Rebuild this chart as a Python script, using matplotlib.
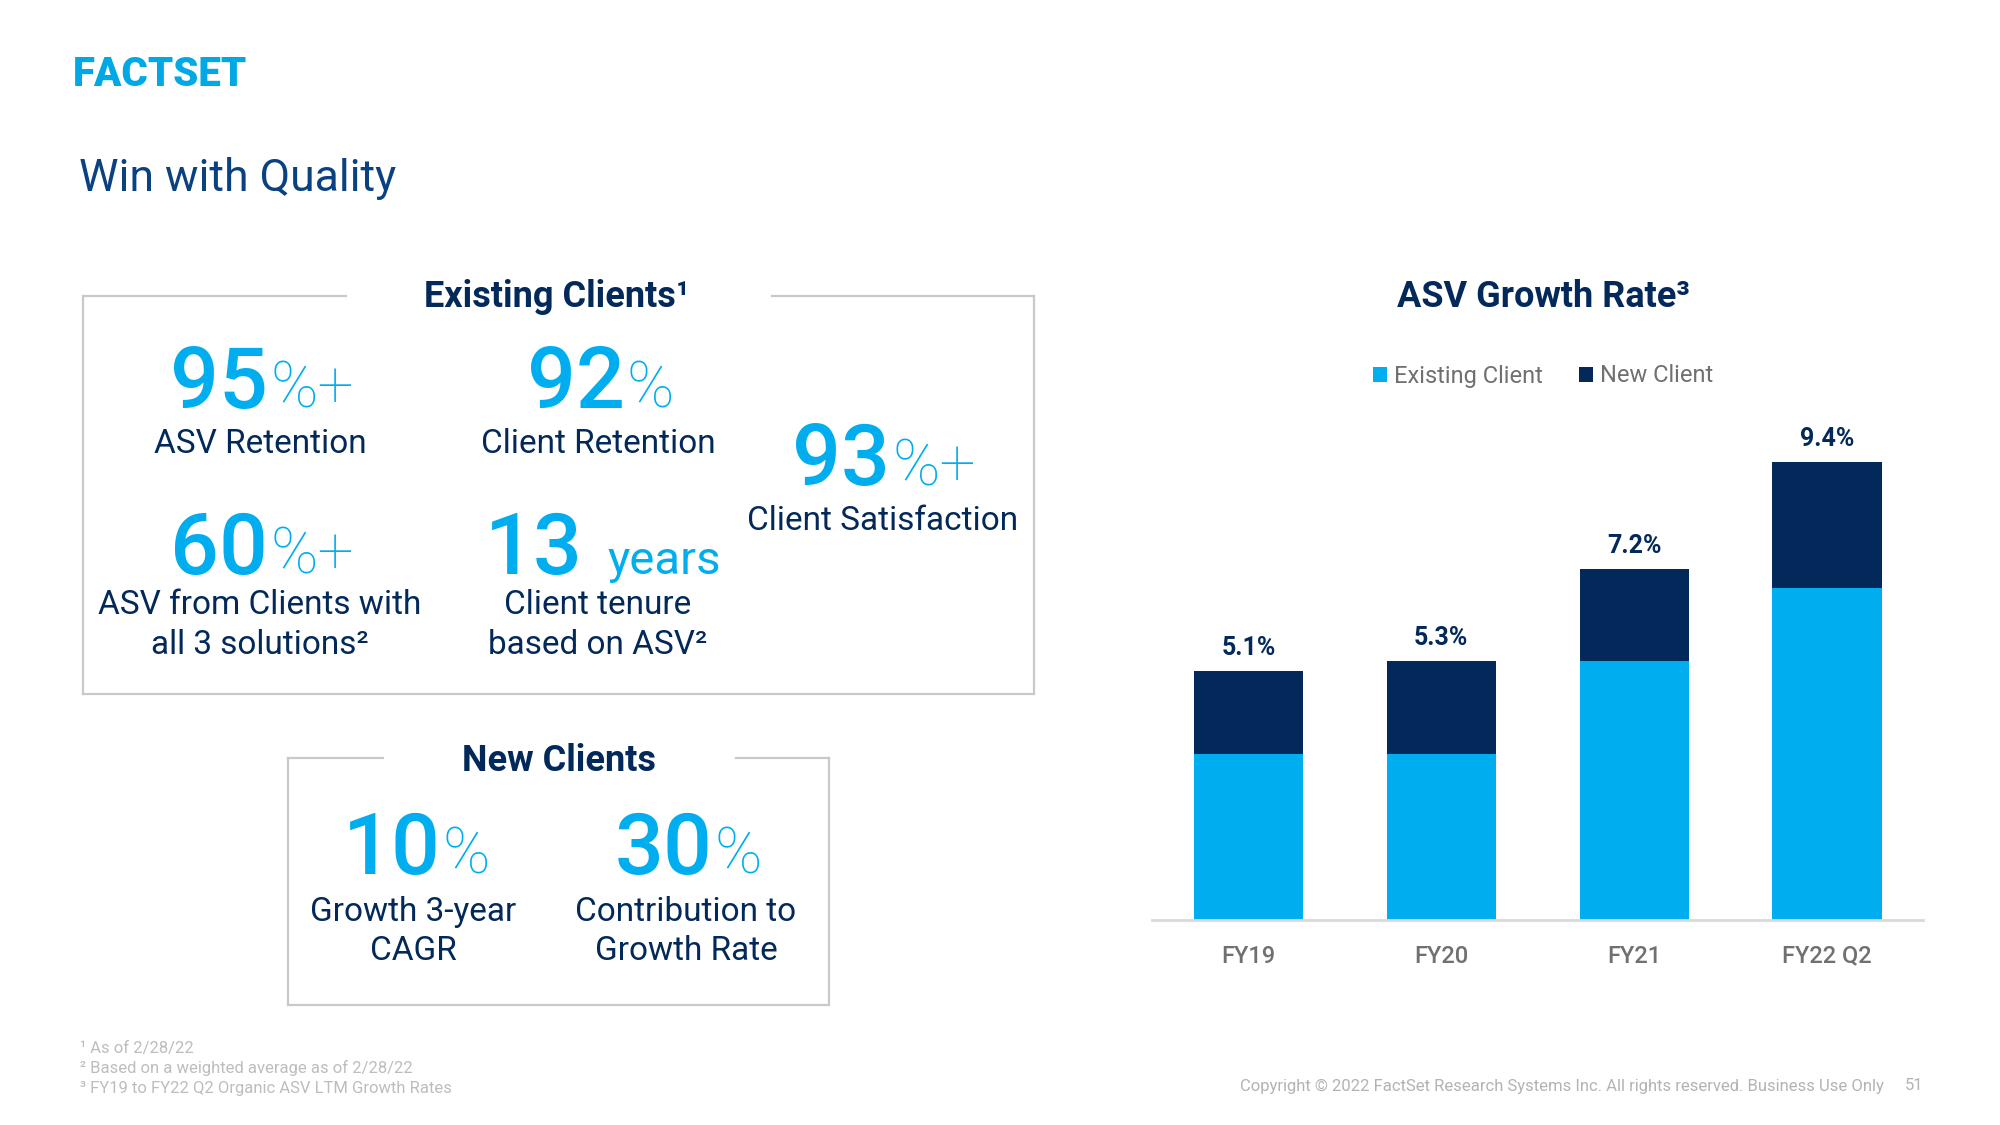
import matplotlib.pyplot as plt
from matplotlib.lines import Line2D

plt.rcParams['font.family'] = ['Roboto', 'DejaVu Sans']

# ---- data ----
periods = ['FY19', 'FY20', 'FY21', 'FY22 Q2']
existing_client = [3.4, 3.4, 5.3, 6.8]
new_client = [1.7, 1.9, 1.9, 2.6]
total_labels = ['5.1%', '5.3%', '7.2%', '9.4%']

footnotes = ['\u00b9 As of 2/28/22',
             '\u00b2 Based on a weighted average as of 2/28/22',
             '\u00b3 FY19 to FY22 Q2 Organic ASV LTM Growth Rates']

LIGHT = '#00AEEF'
NAVY = '#03295A'
TITLE = '#0A4180'
GRAY = '#707070'
BOX = '#C9C9C9'

W, H = 2000, 1125
fig = plt.figure(figsize=(20, 11.25), dpi=100)


def fx(x):
    return x / W


def fy(y):
    return 1 - y / H


def txt(x, y, s, **kw):
    fig.text(fx(x), fy(y), s, **kw)


def hline(x0, x1, y):
    fig.add_artist(Line2D([fx(x0), fx(x1)], [fy(y), fy(y)], color=BOX, lw=1.6))


def vline(x, y0, y1):
    fig.add_artist(Line2D([fx(x), fx(x)], [fy(y0), fy(y1)], color=BOX, lw=1.6))


# logo + title
txt(73, 75, 'FACTSET', fontsize=29, fontweight='heavy', color='#00A9E4', va='center')
txt(79, 179, 'Win with Quality', fontsize=32, color=TITLE, va='center')

# existing clients box
hline(83, 346, 296); hline(772, 1034, 296); hline(83, 1034, 694)
vline(83, 296, 694); vline(1034, 296, 694)
txt(557, 297, 'Existing Clients\u00b9', fontsize=26, fontweight='bold', color=NAVY,
    ha='center', va='center')

# new clients box
hline(288, 383, 758); hline(736, 829, 758); hline(288, 829, 1005)
vline(288, 758, 1005); vline(829, 758, 1005)
txt(559, 761, 'New Clients', fontsize=26, fontweight='bold', color=NAVY,
    ha='center', va='center')


def stat(xj, yb, big, small, gap=2, small_size=46):
    txt(xj, yb, big, fontsize=62, fontweight='medium', color=LIGHT, ha='right', va='baseline')
    txt(xj + gap, yb, small, fontsize=small_size, fontweight='light', color=LIGHT,
        ha='left', va='baseline')


def label(xc, y, s):
    txt(xc, y, s, fontsize=24, color=NAVY, ha='center', va='center')


stat(268, 408, '95', '%+')
label(260, 444, 'ASV Retention')
stat(625, 408, '92', '%')
label(598, 444, 'Client Retention')
stat(890, 485, '93', '%+')
label(883, 521, 'Client Satisfaction')
stat(268, 574, '60', '%+')
label(260, 605, 'ASV from Clients with')
label(260, 645, 'all 3 solutions\u00b2')
txt(583, 574, '13', fontsize=62, fontweight='medium', color=LIGHT, ha='right', va='baseline')
txt(607, 574, 'years', fontsize=34, color=LIGHT, ha='left', va='baseline')
label(598, 605, 'Client tenure')
label(598, 645, 'based on ASV\u00b2')
stat(441, 874, '10', '%')
label(413, 912, 'Growth 3-year')
label(413, 951, 'CAGR')
stat(712, 874, '30', '%')
label(686, 912, 'Contribution to')
label(686, 951, 'Growth Rate')

# ---- bar chart ----
ax = fig.add_axes([fx(1152), fy(919.6), (1923.5 - 1152) / W, 487.2 / H])
xs = range(len(periods))
b1 = ax.bar(xs, existing_client, width=0.567, color=LIGHT, label='Existing Client')
b2 = ax.bar(xs, new_client, width=0.567, bottom=existing_client, color=NAVY, label='New Client')
for i, lab in enumerate(total_labels):
    ax.annotate(lab, (i, existing_client[i] + new_client[i]), xytext=(0, 8),
                textcoords='offset points', ha='center', va='bottom',
                fontsize=18, fontweight='bold', color=NAVY)
ax.set_xlim(-0.5, 3.5)
ax.set_ylim(0, 10)
ax.set_xticks(list(xs))
ax.set_xticklabels(periods, fontsize=17, color=GRAY, fontweight='medium')
ax.tick_params(axis='x', length=0, pad=18)
ax.set_yticks([])
for s in ['top', 'left', 'right']:
    ax.spines[s].set_visible(False)
ax.spines['bottom'].set_color('#D9D9D9')
ax.spines['bottom'].set_linewidth(2)

txt(1543, 297, 'ASV Growth Rate\u00b3', fontsize=26, fontweight='bold', color=NAVY,
    ha='center', va='center')
fig.legend(handles=[b1, b2], loc='center', bbox_to_anchor=(fx(1543), fy(376)), ncol=2,
           frameon=False, fontsize=17, handlelength=0.6, handleheight=0.6,
           handletextpad=0.3, columnspacing=1.5, labelcolor=GRAY)

# footer
for i, f in enumerate(footnotes):
    txt(80, 1048 + 20 * i, f, fontsize=12, color='#BDBDBD', va='center')
txt(1884, 1086, 'Copyright \u00a9 2022 FactSet Research Systems Inc. All rights reserved. Business Use Only',
    fontsize=12, color='#B3B3B3', ha='right', va='center')
txt(1923, 1086, '51', fontsize=12, color='#B3B3B3', ha='right', va='center')

fig.savefig('out.png', dpi=100, facecolor='white')
